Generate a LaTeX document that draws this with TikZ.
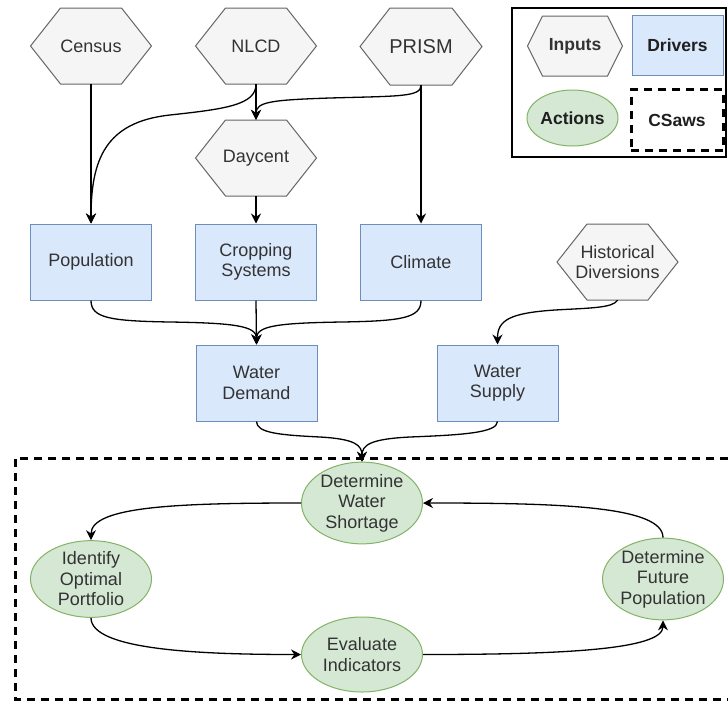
\documentclass[tikz,border=0pt]{standalone}
\usepackage{fontspec}
\setmainfont{Liberation Sans}
\usetikzlibrary{shapes.geometric,arrows.meta}
\definecolor{hexfill}{HTML}{F5F5F5}
\definecolor{hexline}{HTML}{666666}
\definecolor{recfill}{HTML}{DAE8FC}
\definecolor{recline}{HTML}{6C8EBF}
\definecolor{ellfill}{HTML}{D5E8D4}
\definecolor{ellline}{HTML}{82B366}
\definecolor{txtcol}{HTML}{333333}
\newcommand\hexnode[8]{% name, cx, cy, w, h, tip, font, text
  \filldraw[hexdraw] ({#2-#4/2},#3) -- ({#2-#4/2+#6},{#3-#5/2}) -- ({#2+#4/2-#6},{#3-#5/2}) -- ({#2+#4/2},#3) -- ({#2+#4/2-#6},{#3+#5/2}) -- ({#2-#4/2+#6},{#3+#5/2}) -- cycle;
  \node[txtnode, font=#7, minimum width=#4 pt, minimum height=#5 pt] (#1) at (#2,#3) {#8};}
\begin{document}
\begin{tikzpicture}[x=1pt,y=-1pt,
  hexdraw/.style={fill=hexfill, draw=hexline, line width=1pt},
  txtnode/.style={inner sep=0pt, align=center, text=txtcol},
  nfont/.style={font=\fontsize{18}{20.5}\selectfont},
  recbox/.style={txtnode, nfont, draw=recline, fill=recfill, line width=1pt, minimum width=121pt, minimum height=76pt},
  ellbox/.style={txtnode, nfont, ellipse, draw=ellline, fill=ellfill, line width=1pt, minimum width=121pt, minimum height=76pt},
  arr/.style={line width=1.3pt, -{Stealth[length=10pt,width=10pt]}},
  dashbox/.style={line width=3pt, dash pattern=on 8pt off 6pt},
  legtxt/.style={font=\fontsize{17.5}{20}\selectfont\bfseries, text=black!88}
]
\useasboundingbox (0,0) rectangle (728,702);

% Inputs (hexagons)
\hexnode{census}{91}{46}{121}{76}{30}{\fontsize{18}{20.5}\selectfont}{Census}
\hexnode{nlcd}{256}{46}{121}{76}{30}{\fontsize{18}{20.5}\selectfont}{NLCD}
\hexnode{prism}{421}{46.5}{122}{77}{30}{\fontsize{20}{22}\selectfont}{PRISM}
\hexnode{daycent}{256}{158}{121}{76}{30}{\fontsize{18}{20.5}\selectfont}{Daycent}
\hexnode{hist}{617.5}{262}{121}{76}{30}{\fontsize{18}{20.5}\selectfont}{Historical\\Diversions}

% Drivers
\node[recbox] (pop) at (91,262) {Population};
\node[recbox] (crop) at (256,262) {Cropping\\Systems};
\node[recbox] (climate) at (421,262) {Climate};
\node[recbox] (demand) at (256.5,383) {Water\\Demand};
\node[recbox] (supply) at (497.5,383) {Water\\Supply};

% CSaws frame
\draw[dashbox] (728,458) -- (15,458) -- (15,699) -- (728,699);

% Actions
\node[ellbox] (dws) at (362,503) {Determine\\Water\\Shortage};
\node[ellbox] (iop) at (91,579) {Identify\\Optimal\\Portfolio};
\node[ellbox] (dfp) at (663,579) {Determine\\Future\\Population};
\node[ellbox, minimum height=75pt] (evi) at (362,654.5) {Evaluate\\Indicators};

% Legend
\draw[line width=1.3pt] (512,8) rectangle (726,157);
\hexnode{leginp}{575}{46}{95}{60}{15}{\fontsize{17.5}{20}\selectfont\bfseries}{Inputs}
\node[recbox, legtxt, minimum width=91pt, minimum height=60pt] (legdrv) at (677.5,45) {Drivers};
\node[ellbox, legtxt, minimum width=91pt, minimum height=56pt] (legact) at (572.5,118) {Actions};
\node[txtnode, legtxt, dashbox, draw=black, minimum width=92pt, minimum height=61pt] (legcs) at (677,120) {CSaws};

% Connectors, top part
\draw[arr] (census.south) -- (pop.north);
\draw[arr] (nlcd.south) .. controls (256,105) and (225,109) .. (170,115) .. controls (105,122) and (91,160) .. (pop.north);
\draw[arr] (nlcd.south) -- (daycent.north);
\draw[arr] (prism.south) .. controls (421,97) and (400,96) .. (330,98) .. controls (270,100) and (256,102) .. (daycent.north);
\draw[arr] (prism.south) -- (climate.north);
\draw[arr] (daycent.south) -- (crop.north);

% Drivers to water
\draw[arr] (pop.south) .. controls (91,318) and (110,321) .. (170,322) .. controls (235,323) and (256.5,326) .. (demand.north);
\draw[arr] (crop.south) -- (demand.north);
\draw[arr] (climate.south) .. controls (421,318) and (402,321) .. (342,322) .. controls (277,323) and (256.5,326) .. (demand.north);
\draw[arr] (hist.south) .. controls (613,308) and (590,308) .. (555,310) .. controls (510,313) and (497.5,320) .. (supply.north);

% Water to CSaws
\draw[arr] (demand.south) .. controls (256.5,433) and (280,435) .. (320,437) .. controls (355,439) and (362,445) .. (dws.north);
\draw[arr] (supply.south) .. controls (497.5,433) and (460,435) .. (410,437) .. controls (370,439) and (362,445) .. (dws.north);

% Loop
\draw[arr] (dws.west) .. controls (180,503) and (91,506) .. (iop.north);
\draw[arr] (iop.south) .. controls (91,650) and (200,654.5) .. (evi.west);
\draw[arr] (evi.east) .. controls (560,654.5) and (663,650) .. (dfp.south);
\draw[arr] (dfp.north) .. controls (663,506) and (560,503) .. (dws.east);
\end{tikzpicture}
\end{document}
